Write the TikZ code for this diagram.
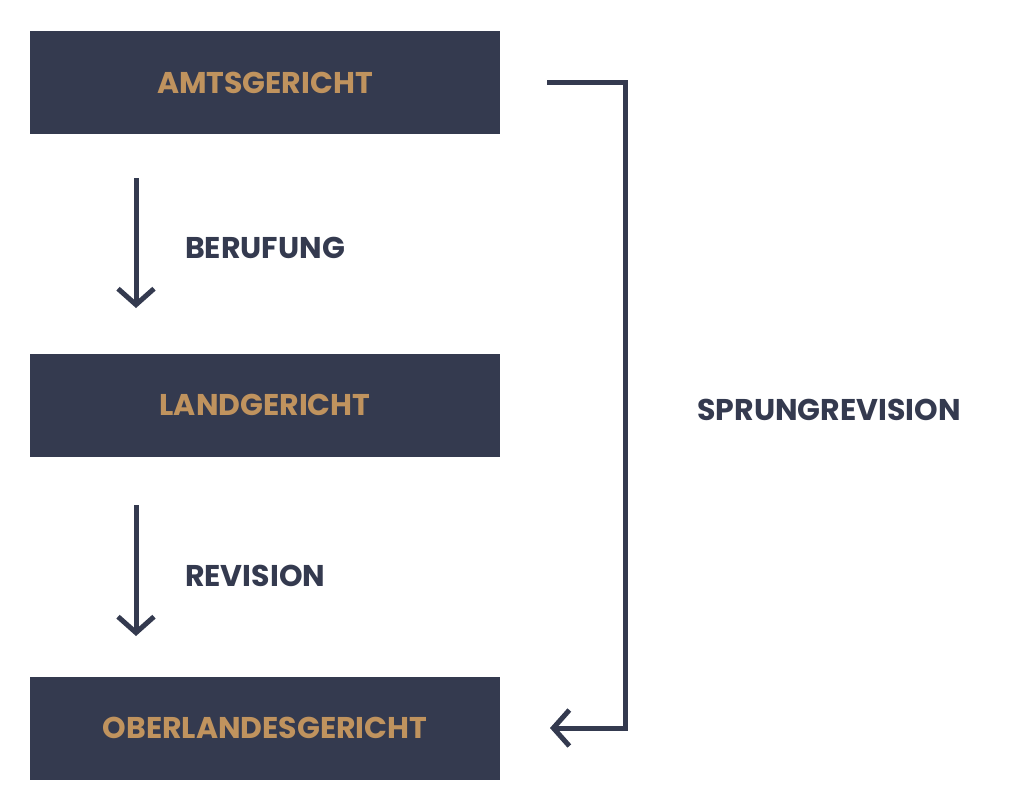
\documentclass[tikz,border=0pt]{standalone}
\usepackage{fontspec}
\setmainfont{Poppins}
\usetikzlibrary{arrows.meta}
\definecolor{navy}{HTML}{343A4F}
\definecolor{gold}{HTML}{C0935E}
\begin{document}
\begin{tikzpicture}[x=1pt,y=-1pt,
  court/.style={fill=navy,text=gold,font=\fontsize{30}{30}\selectfont\bfseries,minimum width=470pt,minimum height=103pt,inner sep=0pt},
  lbl/.style={text=navy,font=\fontsize{30}{30}\selectfont\bfseries,inner sep=0pt},
  arr/.style={draw=navy,line width=5pt,-{Straight Barb[length=16pt,width=36pt,line width=5pt]}}]
\useasboundingbox (0,0) rectangle (1024,811);
\node[court] (ag) at (265,82.5) {AMTSGERICHT};
\node[court] (lg) at (265,405) {LANDGERICHT};
\node[court] (olg) at (265,728) {OBERLANDESGERICHT};
\coordinate (a1) at (136,178); \coordinate (a2) at (136,308);
\coordinate (b1) at (136,505); \coordinate (b2) at (136,636);
\draw[arr] (a1) -- (a2);
\draw[arr] (b1) -- (b2);
\node[lbl,anchor=west] (ber) at (185,248) {BERUFUNG};
\node[lbl,anchor=west] (rev) at (185,576) {REVISION};
\coordinate (s1) at (547,82); \coordinate (s2) at (550,728);
\draw[arr,line join=miter] (s1) -- (625,82) -- (625,728) -- (s2);
\node[lbl] (spr) at (829,410) {SPRUNGREVISION};
\end{tikzpicture}
\end{document}
